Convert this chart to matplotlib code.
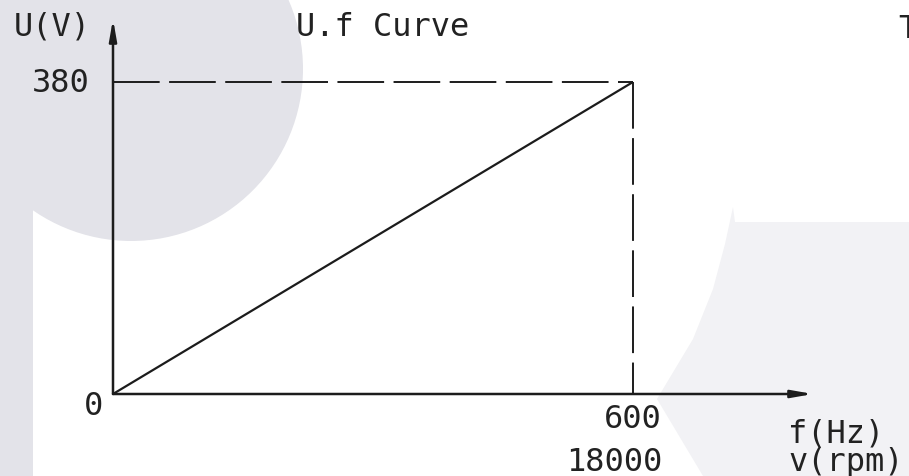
import matplotlib
matplotlib.use("Agg")
import matplotlib.pyplot as plt
from matplotlib.patches import Circle, Rectangle, Polygon
import numpy as np

# ---- data ----
freq = [0, 600]          # Hz
volt = [0, 380]          # V
rpm_max = 18000
x_tick_labels = ["600", "18000"]
y_tick_labels = ["0", "380"]
title = "U.f Curve"
y_label = "U(V)"
x_label1 = "f(Hz)"
x_label2 = "v(rpm)"

W, H = 909, 477
plt.rcParams['lines.scale_dashes'] = False
fig = plt.figure(figsize=(W / 100, H / 100), dpi=100)
fig.patch.set_facecolor("white")

# background axes in pixel coordinates (decorative shapes + text layout)
bg = fig.add_axes([0, 0, 1, 1])
bg.set_xlim(0, W)
bg.set_ylim(H, 0)
bg.axis("off")
bg.add_patch(Circle((131, 70), 172, color="#e3e3e9", lw=0))
bg.add_patch(Rectangle((0, 0), 33, H, color="#e3e3e9", lw=0))
bg.add_patch(Polygon([(733, 208), (735, 223), (W, 223), (W, H), (703, H),
                      (657, 400), (663, 390), (693, 340), (713, 290), (725, 245)],
                     closed=True, color="#f2f2f5", lw=0))

# data axes: origin at px (113,395); 600 Hz at px 633; 380 V at px 83
x0px, y0px = 113, 395
sx = (633 - x0px) / 600.0
sy = (y0px - 83) / 380.0
ax = fig.add_axes([0, 0, 1, 1])
ax.patch.set_alpha(0)
ax.set_xlim(-x0px / sx, (W - x0px) / sx)
ax.set_ylim(-(H - y0px) / sy, y0px / sy)
ax.axis("off")

lc = "#1c1c1c"
# diagonal
ax.plot(freq, volt, color=lc, lw=1.6, solid_capstyle="butt")
# dashed guides
ax.plot([freq[0], freq[1]], [volt[1], volt[1]], color=lc, lw=1.4,
        dashes=(33.6, 6.8), dash_capstyle="butt")
ax.plot([freq[1], freq[1]], [volt[1], volt[0]], color=lc, lw=1.4,
        dashes=(33.6, 6.8), dash_capstyle="butt")
# axes with arrows
x_tip = (813 - x0px) / sx
y_tip = (y0px - 20) / sy
arrow = dict(arrowstyle="-|>,head_length=1.25,head_width=0.22", lw=1.8,
             color=lc, shrinkA=0, shrinkB=0, mutation_scale=10)
ax.annotate("", xy=(x_tip, 0), xytext=(0, 0), arrowprops=arrow)
ax.annotate("", xy=(0, y_tip), xytext=(0, 0), arrowprops=arrow)

# text
font = dict(family="DejaVu Sans Mono", fontsize=23, color="#222222")
bg.text(14, 27, y_label, ha="left", va="center", **font)
bg.text(296, 27, title, ha="left", va="center", **font)
ax.text(-23 / sx, volt[1], y_tick_labels[1], ha="right", va="center", **font)
ax.text(-10 / sx, -12 / sy, y_tick_labels[0], ha="right", va="center", **font)
ax.text(freq[1] + 29 / sx, -25 / sy, x_tick_labels[0], ha="right", va="center", **font)
ax.text(freq[1] + 29 / sx, -68 / sy, x_tick_labels[1], ha="right", va="center", **font)
bg.text(788, 434, x_label1, ha="left", va="center", **font)
bg.text(788, 463, x_label2, ha="left", va="center", **font)
bg.text(908, 30, "T", ha="center", va="center", **font)

fig.savefig("out.png", dpi=100)
